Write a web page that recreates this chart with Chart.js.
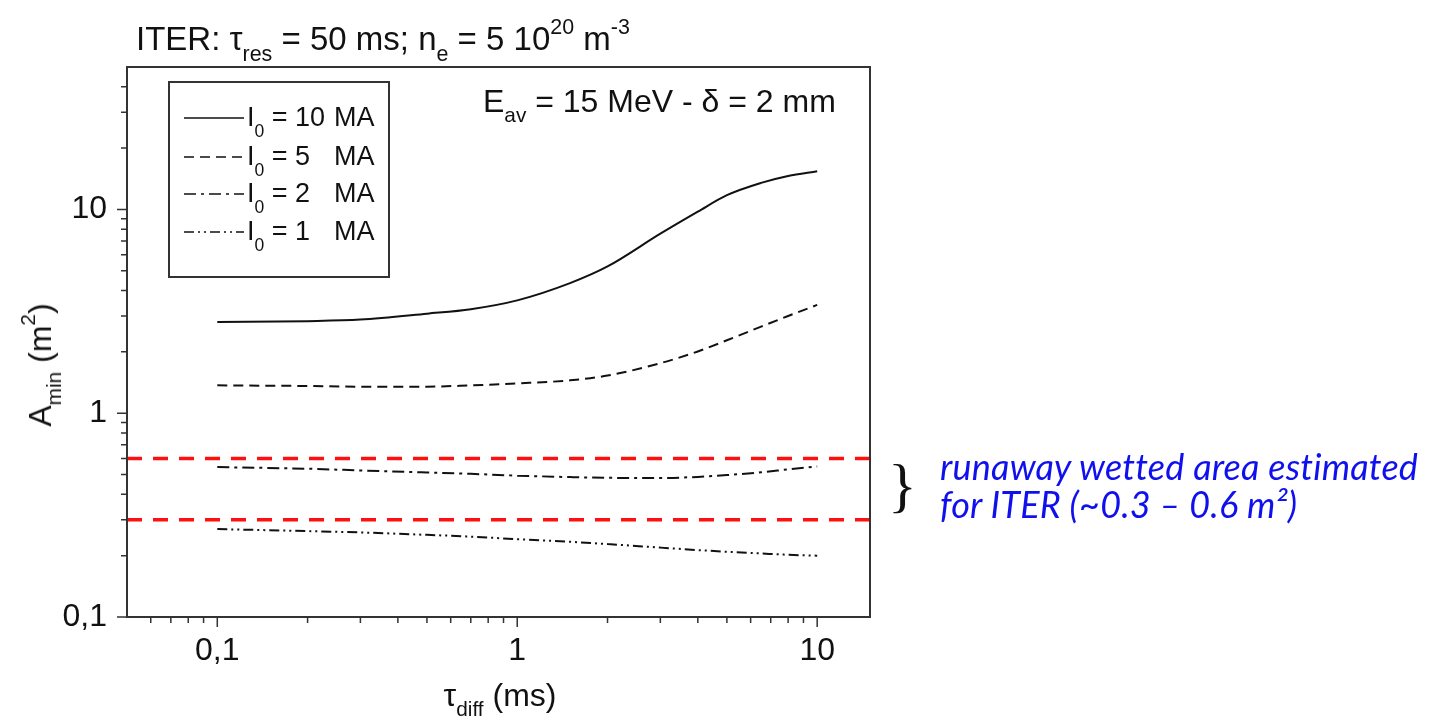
<!DOCTYPE html>
<html>
<head>
<meta charset="utf-8">
<script src="https://cdn.jsdelivr.net/npm/chart.js@4/dist/chart.umd.min.js"></script>
<style>
  body { margin: 0; background: #fff; }
  #wrap { position: relative; width: 1432px; height: 722px; overflow: hidden; }
  canvas { position: absolute; left: 0; top: 0; }
  .t { position: absolute; font-family: 'Liberation Sans', Arial, sans-serif; color: #111;
       white-space: pre; line-height: 1; }
  .t sub, .t sup { font-size: 65%; line-height: 0; vertical-align: baseline; position: relative; }
  .t sub { top: 0.5em; }
  .t sup { top: -0.75em; }
  .lg sub { top: 0.6em; }
  .note { position: absolute; font-family: Lato, 'Noto Sans', sans-serif; font-style: italic;
          color: #1010ee; white-space: pre; line-height: 1; }
  .brace { position: absolute; font-family: 'Liberation Serif', serif; color: #111; line-height: 1; }
</style>
</head>
<body>
<div id="wrap">
  <canvas id="c" width="1432" height="722"></canvas>

  <div class="t" style="left:136px; top:22px; font-size:33px;">ITER: τ<sub>res</sub> = 50 ms; n<sub>e</sub> = 5 10<sup>20</sup> m<sup>-3</sup></div>
  <div class="t" style="left:483px; top:85px; font-size:32px;">E<sub>av</sub> = 15 MeV - δ = 2 mm</div>

  <div class="t lg" style="left:247px; top:104px; font-size:27px;">I<sub>0</sub> = 10</div>
  <div class="t lg" style="left:334px; top:104px; font-size:27px;">MA</div>
  <div class="t lg" style="left:247px; top:143px; font-size:27px;">I<sub>0</sub> = 5</div>
  <div class="t lg" style="left:334px; top:143px; font-size:27px;">MA</div>
  <div class="t lg" style="left:247px; top:180px; font-size:27px;">I<sub>0</sub> = 2</div>
  <div class="t lg" style="left:334px; top:180px; font-size:27px;">MA</div>
  <div class="t lg" style="left:247px; top:218px; font-size:27px;">I<sub>0</sub> = 1</div>
  <div class="t lg" style="left:334px; top:218px; font-size:27px;">MA</div>

  <div class="t" style="left:40px; top:365px; font-size:32px; transform: translate(-50%, -50%) rotate(-90deg);">A<sub>min</sub> (m<sup>2</sup>)</div>
  <div class="t" style="left:500px; top:695px; font-size:32px; transform: translate(-50%, -50%);">τ<sub>diff</sub> (ms)</div>

  <div class="brace" style="left:888px; top:455px; font-size:60px;">}</div>
  <div class="note" style="left:940px; top:448px; font-size:36px; letter-spacing:0.2px;">runaway wetted area estimated</div>
  <div class="note" style="left:940px; top:486px; font-size:36px; letter-spacing:0.2px;">for ITER (~0.3 – 0.6 m²)</div>
</div>

<script>
'use strict';

// tau_diff (ms)
const tau = [0.1, 0.2, 0.3, 0.5, 0.7, 1, 1.5, 2, 3, 4, 5, 6.5, 8, 10];

// A_min (m^2) for each plasma current
const amin10MA = [2.80, 2.83, 2.88, 3.08, 3.24, 3.58, 4.35, 5.25, 7.6, 9.75, 11.75, 13.5, 14.6, 15.4];
const amin5MA = [1.37, 1.36, 1.35, 1.35, 1.37, 1.40, 1.45, 1.53, 1.76, 2.01, 2.28, 2.66, 3.0, 3.40];
const amin2MA = [0.544, 0.534, 0.524, 0.512, 0.504, 0.494, 0.486, 0.482, 0.481, 0.487, 0.497, 0.513, 0.530, 0.548];
const amin1MA = [0.270, 0.264, 0.260, 0.253, 0.248, 0.241, 0.234, 0.228, 0.219, 0.213, 0.209, 0.205, 0.202, 0.200];

// estimated runaway wetted area band
const wettedLow = 0.3;
const wettedHigh = 0.6;

// axes
const xRange = [0.05, 15];
const yRange = [0.1, 50];
const xMajorTicks = [0.1, 1, 10];
const xMinorTicks = [0.06, 0.07, 0.08, 0.09, 0.2, 0.3, 0.4, 0.5, 0.6, 0.7, 0.8, 0.9, 2, 3, 4, 5, 6, 7, 8, 9];
const yMajorTicks = [0.1, 1, 10];
const yMinorTicks = [0.2, 0.3, 0.4, 0.5, 0.6, 0.7, 0.8, 0.9, 2, 3, 4, 5, 6, 7, 8, 9, 20, 30, 40];

const seriesDash = [[], [10, 6], [12, 5, 3, 5], [10, 4, 2, 4, 2, 4]];

function points(ys) {
  return tau.map((t, i) => ({ x: t, y: ys[i] }));
}

function curve(ys, dash) {
  return {
    data: points(ys),
    borderColor: '#111',
    borderWidth: 2,
    borderDash: dash,
    pointRadius: 0,
    cubicInterpolationMode: 'monotone',
    fill: false
  };
}

function band(value) {
  return {
    data: xRange.map(x => ({ x: x, y: value })),
    borderColor: '#ff1010',
    borderWidth: 3.5,
    borderDash: [15, 11],
    pointRadius: 0,
    fill: false
  };
}

const tickFont = { family: 'Liberation Sans', size: 32 };
const commaLabel = v => String(v).replace('.', ',');

// frame, outside ticks (major + minor) and legend samples
const frameTicks = {
  id: 'frameTicks',
  afterDraw(chart) {
    const { ctx, chartArea: a, scales: { x, y } } = chart;
    ctx.save();
    ctx.strokeStyle = '#333';
    ctx.lineWidth = 2;
    ctx.setLineDash([]);
    ctx.strokeRect(a.left, a.top, a.right - a.left, a.bottom - a.top);

    ctx.lineWidth = 1.5;
    ctx.beginPath();
    const xt = (v, len) => { const p = x.getPixelForValue(v); ctx.moveTo(p, a.bottom); ctx.lineTo(p, a.bottom + len); };
    const yt = (v, len) => { const p = y.getPixelForValue(v); ctx.moveTo(a.left, p); ctx.lineTo(a.left - len, p); };
    xMajorTicks.forEach(v => xt(v, 10));
    xMinorTicks.forEach(v => xt(v, 6));
    yMajorTicks.forEach(v => yt(v, 10));
    yMinorTicks.forEach(v => yt(v, 6));
    ctx.stroke();

    // legend box
    ctx.lineWidth = 2;
    ctx.strokeRect(169, 82, 220, 195);
    ctx.strokeStyle = '#111';
    ctx.lineWidth = 1.5;
    [118, 157, 194, 232].forEach((ly, i) => {
      ctx.setLineDash(seriesDash[i]);
      ctx.beginPath();
      ctx.moveTo(184, ly);
      ctx.lineTo(244, ly);
      ctx.stroke();
    });
    ctx.restore();
  }
};

new Chart(document.getElementById('c').getContext('2d'), {
  type: 'line',
  data: {
    datasets: [
      curve(amin10MA, seriesDash[0]),
      curve(amin5MA, seriesDash[1]),
      curve(amin2MA, seriesDash[2]),
      curve(amin1MA, seriesDash[3]),
      band(wettedHigh),
      band(wettedLow)
    ]
  },
  options: {
    responsive: false,
    animation: false,
    layout: { padding: { left: 0, top: 67, right: 562, bottom: 0 } },
    plugins: { legend: { display: false }, tooltip: { enabled: false } },
    scales: {
      x: {
        type: 'logarithmic',
        min: xRange[0],
        max: xRange[1],
        grid: { display: false },
        border: { display: false },
        afterBuildTicks: s => { s.ticks = xMajorTicks.map(v => ({ value: v })); },
        afterFit: s => { s.height = 105; },
        ticks: { color: '#111', font: tickFont, padding: 7, maxRotation: 0, autoSkip: false, callback: commaLabel }
      },
      y: {
        type: 'logarithmic',
        min: yRange[0],
        max: yRange[1],
        grid: { display: false },
        border: { display: false },
        afterBuildTicks: s => { s.ticks = yMajorTicks.map(v => ({ value: v })); },
        afterFit: s => { s.width = 127; },
        ticks: { color: '#111', font: tickFont, padding: 12, autoSkip: false, callback: commaLabel }
      }
    }
  },
  plugins: [frameTicks]
});
</script>
</body>
</html>
